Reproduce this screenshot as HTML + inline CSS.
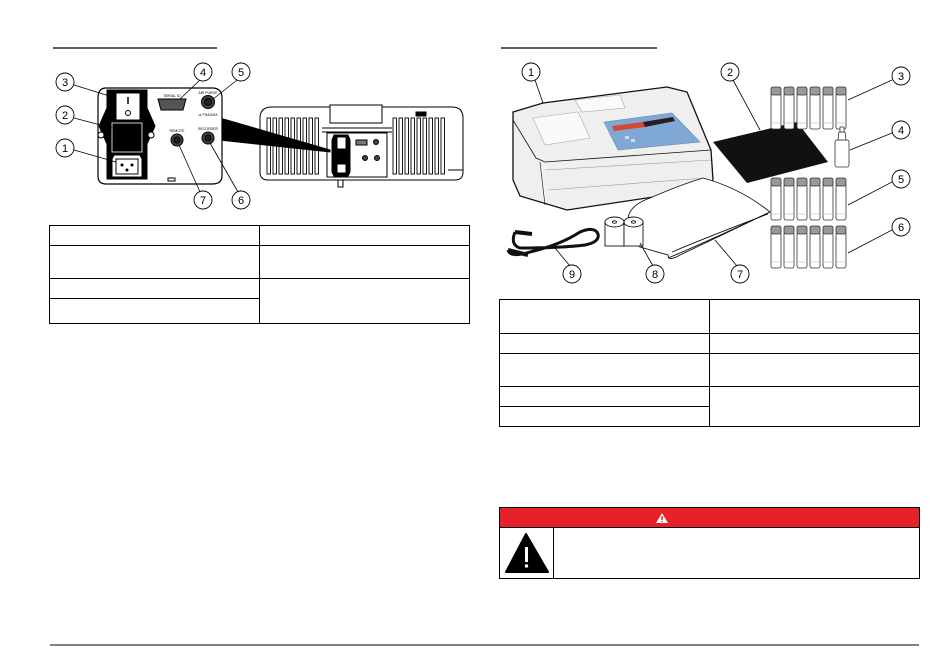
<!DOCTYPE html>
<html><head><meta charset="utf-8"><style>
html,body{margin:0;padding:0;background:#fff;}
body{width:950px;height:665px;position:relative;overflow:hidden;font-family:"Liberation Sans",sans-serif;}
svg{position:absolute;left:0;top:0;}
</style></head><body>
<svg width="950" height="665" viewBox="0 0 950 665" xmlns="http://www.w3.org/2000/svg" font-family="Liberation Sans, sans-serif">
<defs>
<g id="vial">
<rect x="0" y="6" width="10" height="36" rx="2" fill="#fff" stroke="#333" stroke-width="0.8"/>
<rect x="0" y="0" width="10" height="8" rx="2" fill="#999" stroke="#333" stroke-width="0.8"/>
<line x1="0" y1="36" x2="10" y2="36" stroke="#bbb" stroke-width="0.6"/>
</g>
<g id="slot"><rect x="0" y="0" width="3.5" height="56" fill="#fff" stroke="#000" stroke-width="0.9"/></g>
</defs>
<g fill="none" stroke="#000">
<line x1="53" y1="48" x2="217" y2="48" stroke-width="1.2"/>
<line x1="501" y1="48" x2="657" y2="48" stroke-width="1.2"/>
<line x1="50" y1="645" x2="919" y2="645" stroke-width="1"/>
</g>

<!-- LEFT FIGURE -->
<g stroke="#000" stroke-width="1">
<path d="M260,118 Q260,107 272,107 L452,107 Q463,107 463,118 L463,172 Q463,180 455,180 L268,180 Q260,180 260,172 Z" fill="#fff"/>
<rect x="330" y="105" width="52" height="18" fill="#fff"/>
<line x1="322" y1="128" x2="392" y2="128"/>
<line x1="322" y1="132" x2="392" y2="132"/>
<path d="M448,170 L463,170" />
<rect x="338" y="180" width="5" height="7" fill="#fff"/>
<rect x="416" y="112" width="10" height="4" fill="#000"/>
</g>
<g>
<use href="#slot" x="267" y="118"/><use href="#slot" x="273" y="118"/><use href="#slot" x="279" y="118"/><use href="#slot" x="285" y="118"/><use href="#slot" x="291" y="118"/><use href="#slot" x="297" y="118"/><use href="#slot" x="303" y="118"/><use href="#slot" x="309" y="118"/><use href="#slot" x="315" y="118"/>
<use href="#slot" x="393" y="118"/><use href="#slot" x="399" y="118"/><use href="#slot" x="405" y="118"/><use href="#slot" x="411" y="118"/><use href="#slot" x="417" y="118"/><use href="#slot" x="423" y="118"/><use href="#slot" x="429" y="118"/><use href="#slot" x="435" y="118"/><use href="#slot" x="441" y="118"/>
</g>
<g stroke="#000" stroke-width="1">
<rect x="327" y="133" width="60" height="44" fill="#fff"/>
<polygon points="334,135 348,135 350,140 350,172 348,176 334,176 332,172 332,140" fill="#000"/>
<rect x="337" y="137" width="9" height="12" fill="#fff"/>
<rect x="337" y="164" width="9" height="9" fill="#fff"/>
<rect x="356" y="140" width="11" height="5" fill="#777"/>
<circle cx="376" cy="142" r="2.5" fill="#444"/>
<circle cx="365" cy="158" r="2.5" fill="#444"/>
<circle cx="377" cy="158" r="2.5" fill="#444"/>
<!-- wedge -->
<polygon points="220,118 220,140 330,152 330,150" fill="#000"/>
<!-- close-up panel -->
<path d="M106,88 L212,88 Q222,88 222,98 L222,176 Q222,184 212,184 L106,184 Q98,184 98,176 L98,98 Q98,88 106,88 Z" fill="#fff" stroke-width="1.2"/>
<polygon points="107,90 147,90 147,108 155,126 147,144 147,179 107,179 107,144 99,126 107,108" fill="#000"/>
<rect x="116" y="93" width="24" height="27" fill="#fff"/>
<line x1="128" y1="97" x2="128" y2="104" stroke-width="1.5"/>
<circle cx="128" cy="113" r="2.5" fill="none"/>
<rect x="112" y="123" width="30" height="29" fill="#000" stroke="#fff" stroke-width="0.8"/>
<path d="M114,155 L140,155 L142,159 L142,177 L112,177 L112,159 Z" fill="#fff"/>
<rect x="116" y="159" width="22" height="15" fill="#fff"/>
<circle cx="122" cy="165" r="1" fill="#000"/><circle cx="132" cy="165" r="1" fill="#000"/><circle cx="127" cy="170" r="1" fill="#000"/>
<circle cx="101" cy="135" r="3" fill="#fff"/><circle cx="151" cy="135" r="3" fill="#fff"/>
<path d="M158,99 L186,99 L183,110 L161,110 Z" fill="#555"/>
<rect x="168" y="178" width="7" height="3" fill="#fff"/>
<circle cx="208" cy="102" r="6.5" fill="#444"/><circle cx="208" cy="102" r="3.5" fill="#222"/>
<circle cx="177" cy="140" r="6" fill="#444"/><circle cx="177" cy="140" r="3" fill="#222"/>
<circle cx="208" cy="138" r="6" fill="#444"/><circle cx="208" cy="138" r="3" fill="#222"/>
</g>
<g font-size="3.5" fill="#000" text-anchor="middle">
<text x="172" y="97">SERIAL IO</text><text x="208" y="94">AIR PURGE</text><text x="208" y="116">or FRAGMA</text>
<text x="177" y="132">REMOTE</text><text x="208" y="130">RECORDER</text>
</g>
<g stroke="#000" stroke-width="0.8" fill="none">
<line x1="74" y1="85" x2="116" y2="98"/>
<line x1="74" y1="118" x2="112" y2="128"/>
<line x1="74" y1="150" x2="116" y2="162"/>
<line x1="200" y1="80" x2="180" y2="99"/>
<line x1="237" y1="80" x2="212" y2="100"/>
<line x1="200" y1="192" x2="179" y2="145"/>
<line x1="238" y1="192" x2="210" y2="143"/>
</g>
<g stroke="#000" stroke-width="0.9" fill="#fff">
<circle cx="65" cy="82" r="9"/><circle cx="65" cy="115" r="9"/><circle cx="65" cy="148" r="9"/>
<circle cx="203" cy="72" r="9"/><circle cx="241" cy="72" r="9"/>
<circle cx="203" cy="200" r="9"/><circle cx="241" cy="200" r="9"/>
</g>
<g font-size="11" text-anchor="middle" fill="#000">
<text x="65" y="86">3</text><text x="65" y="119">2</text><text x="65" y="152">1</text>
<text x="203" y="76">4</text><text x="241" y="76">5</text><text x="203" y="204">7</text><text x="241" y="204">6</text>
</g>

<g stroke="#000" stroke-width="1" fill="none">
<rect x="49.5" y="225.5" width="420" height="98"/>
<line x1="259.5" y1="225" x2="259.5" y2="324"/>
<line x1="49" y1="245.5" x2="470" y2="245.5"/>
<line x1="49" y1="278.5" x2="470" y2="278.5"/>
<line x1="49" y1="298.5" x2="260" y2="298.5"/>
</g>

<!-- RIGHT FIGURE -->
<g stroke="#111" stroke-width="1.3">
<path d="M513,112 L543,103 L667,87 L687,92 L711,150 L713,180 L700,190 L567,210 L520,196 L513,180 Z" fill="#efefef"/>
<path d="M513,120 L536,158 L545,162 L711,150" fill="none" stroke-width="0.8"/>
<path d="M540,162 L545,205" fill="none" stroke-width="0.6"/>
<path d="M545,170 L711,160 M548,190 L705,178" fill="none" stroke="#999" stroke-width="0.6"/>
<path d="M533,118 L578,112 L590,138 L545,145 Z" fill="#fafafa" stroke="#aaa" stroke-width="0.6"/>
<path d="M575,100 L620,95 L625,108 L582,112 Z" fill="#fafafa" stroke="#aaa" stroke-width="0.6"/>
<polygon points="604,122 672,113 700,142 618,150" fill="#7fa9d4" stroke="#6a8cb0" stroke-width="0.6"/>
<polygon points="612,126 643,122 645,127 614,131" fill="#d8482e" stroke="none"/>
<polygon points="643,122 673,117 675,121 645,127" fill="#2a1e1e" stroke="none"/>
<rect x="625" y="136" width="4" height="3" fill="#cde" stroke="none"/><rect x="631" y="139" width="4" height="3" fill="#cde" stroke="none"/>
</g>
<polygon points="713,142 797,122 828,162 747,183" fill="#111"/>
<g>
<use href="#vial" x="771" y="87"/><use href="#vial" x="784" y="87"/><use href="#vial" x="797" y="87"/><use href="#vial" x="810" y="87"/><use href="#vial" x="823" y="87"/><use href="#vial" x="836" y="87"/>
<use href="#vial" x="771" y="178"/><use href="#vial" x="784" y="178"/><use href="#vial" x="797" y="178"/><use href="#vial" x="810" y="178"/><use href="#vial" x="823" y="178"/><use href="#vial" x="836" y="178"/>
<use href="#vial" x="771" y="226"/><use href="#vial" x="784" y="226"/><use href="#vial" x="797" y="226"/><use href="#vial" x="810" y="226"/><use href="#vial" x="823" y="226"/><use href="#vial" x="836" y="226"/>
</g>
<g stroke="#333" stroke-width="0.8" fill="#fff">
<rect x="835" y="140" width="14" height="27" rx="2"/>
<path d="M838,140 L839,132 L845,132 L846,140 Z"/>
<rect x="840" y="127" width="4" height="5"/>
</g>
<g stroke="#111" stroke-width="0.9" fill="#fff">
<path d="M628,218 Q630,205 650,198 Q680,185 703,178 Q740,188 770,212 L680,255 Q668,262 668,255 L640,247 Q630,240 628,218 Z"/>
<path d="M668,258 Q700,245 770,212 M672,252 Q710,236 768,214" fill="none"/>
</g>
<g stroke="#111" stroke-width="0.9" fill="#fff">
<rect x="605" y="222" width="19" height="24"/><ellipse cx="614.5" cy="222" rx="9.5" ry="5"/><ellipse cx="614.5" cy="222" rx="2" ry="1.2"/>
<rect x="624" y="222" width="19" height="24"/><ellipse cx="633.5" cy="222" rx="9.5" ry="5"/><ellipse cx="633.5" cy="222" rx="2" ry="1.2"/>
</g>
<g fill="none" stroke="#111" stroke-width="3">
<path d="M515,232 Q510,245 520,248 Q560,248 585,245 Q600,242 598,234 Q595,226 580,232 Q560,245 530,252 Q510,258 508,250"/>
<path d="M515,232 L532,234 M508,250 L528,255" stroke-width="4"/>
</g>
<g stroke="#000" stroke-width="0.8" fill="none">
<line x1="535" y1="80" x2="543" y2="103"/>
<line x1="733" y1="80" x2="760" y2="130"/>
<line x1="892" y1="80" x2="848" y2="100"/>
<line x1="892" y1="133" x2="850" y2="150"/>
<line x1="892" y1="182" x2="848" y2="205"/>
<line x1="892" y1="230" x2="848" y2="253"/>
<line x1="570" y1="266" x2="555" y2="248"/>
<line x1="653" y1="266" x2="640" y2="243"/>
<line x1="737" y1="266" x2="715" y2="240"/>
</g>
<g stroke="#000" stroke-width="0.9" fill="#fff">
<circle cx="531" cy="72" r="9"/><circle cx="730" cy="72" r="9"/><circle cx="901" cy="76" r="9"/>
<circle cx="901" cy="130" r="9"/><circle cx="901" cy="179" r="9"/><circle cx="901" cy="227" r="9"/>
<circle cx="572" cy="274" r="9"/><circle cx="655" cy="274" r="9"/><circle cx="740" cy="274" r="9"/>
</g>
<g font-size="11" text-anchor="middle" fill="#000">
<text x="531" y="76">1</text><text x="730" y="76">2</text><text x="901" y="80">3</text>
<text x="901" y="134">4</text><text x="901" y="183">5</text><text x="901" y="231">6</text>
<text x="572" y="278">9</text><text x="655" y="278">8</text><text x="740" y="278">7</text>
</g>

<g stroke="#000" stroke-width="1" fill="none">
<rect x="499.5" y="299.5" width="420" height="127"/>
<line x1="709.5" y1="299" x2="709.5" y2="427"/>
<line x1="499" y1="333.5" x2="920" y2="333.5"/>
<line x1="499" y1="353.5" x2="920" y2="353.5"/>
<line x1="499" y1="386.5" x2="920" y2="386.5"/>
<line x1="499" y1="406.5" x2="710" y2="406.5"/>
</g>

<rect x="499.5" y="507.5" width="420" height="20" fill="#e8202a" stroke="#000"/>
<rect x="499.5" y="527.5" width="420" height="51" fill="#fff" stroke="#000"/>
<line x1="553.5" y1="527" x2="553.5" y2="579" stroke="#000"/>
<polygon points="662,513 668,523 656,523" fill="#fff"/>
<rect x="661.3" y="516" width="1.4" height="4" fill="#e8202a"/><rect x="661.3" y="521" width="1.4" height="1.2" fill="#e8202a"/>
<polygon points="526,534 548,572 506,572" fill="#000" stroke="#000" stroke-linejoin="round" stroke-width="2"/>
<rect x="525" y="547" width="3" height="15" fill="#fff"/><circle cx="526.5" cy="566" r="1.7" fill="#fff"/>
</svg>
</body></html>
